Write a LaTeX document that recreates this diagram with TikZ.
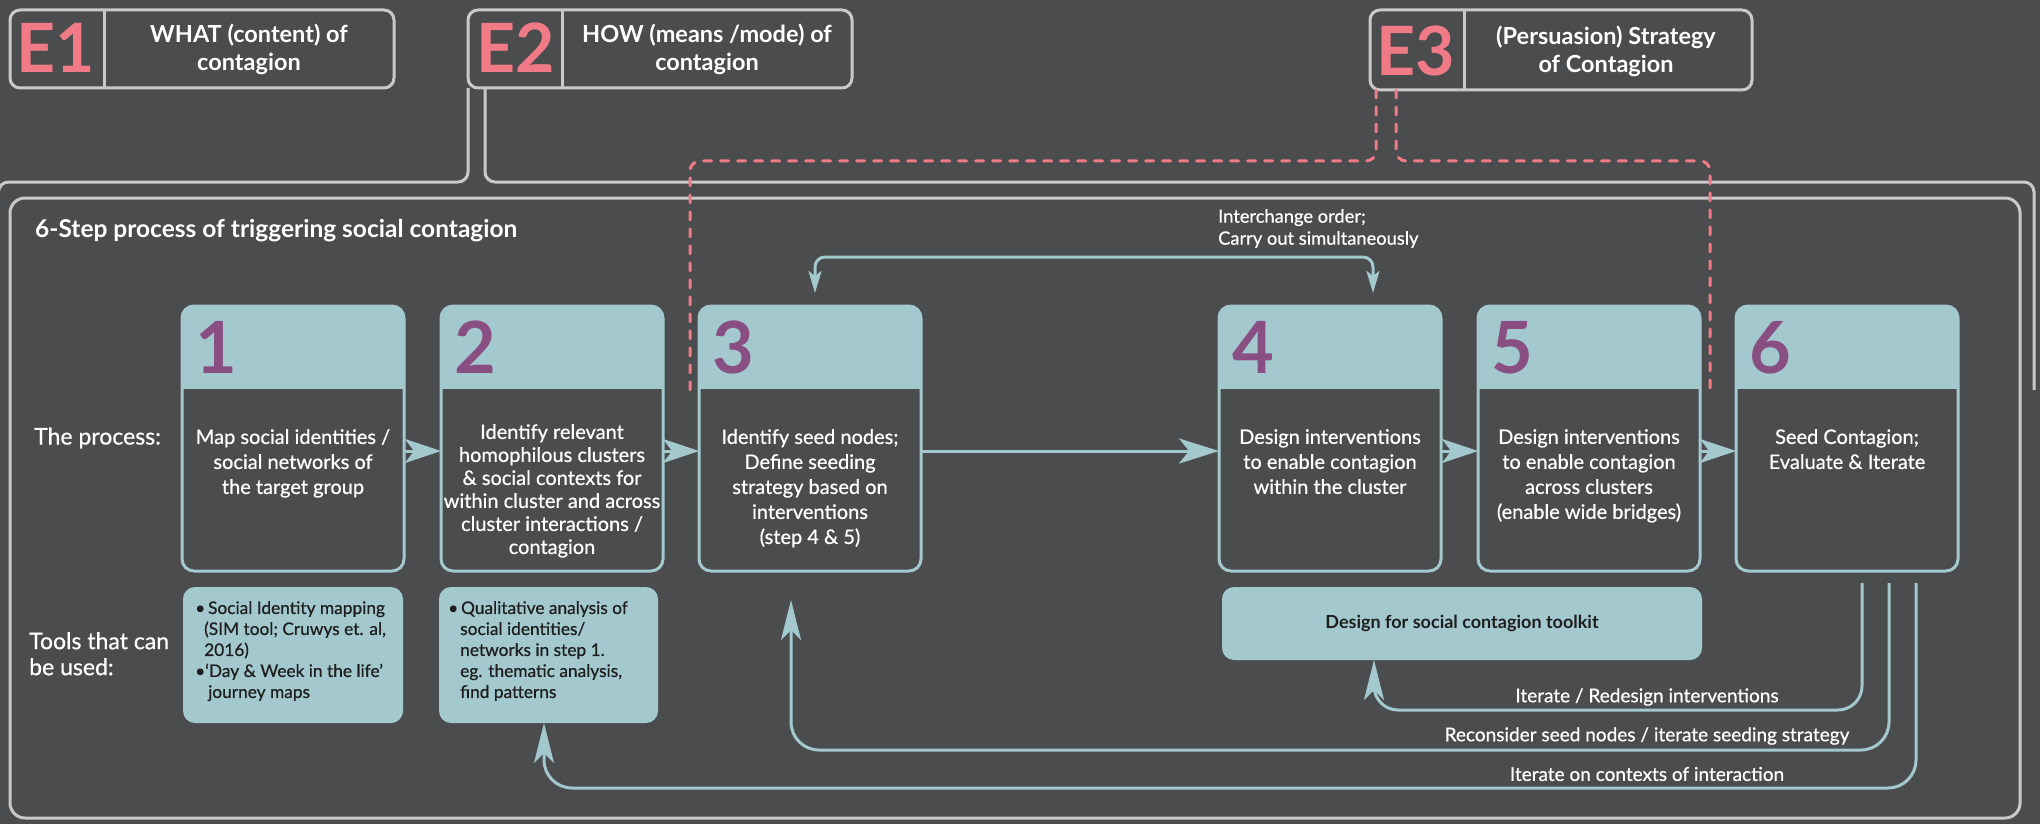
\documentclass[tikz,border=0pt]{standalone}
\usepackage{fontspec}
\setmainfont{Lato}
\newfontfamily\latosb[FakeBold=0.6]{Lato}
\usetikzlibrary{arrows.meta}
\definecolor{bgc}{HTML}{4B4C4E}
\definecolor{lbc}{HTML}{A3C9CF}
\definecolor{purc}{HTML}{8A4F82}
\definecolor{pkc}{HTML}{F07B87}
\definecolor{frc}{HTML}{C9C9C9}
\definecolor{dkc}{HTML}{1E1E1E}
\newcommand\StepBox[6]{%
  \node[stepbox] (#1) at (#2,438.5) {};
  \begin{scope}
    \clip (#1.north west) rectangle (#1.east |- 0,388);
    \fill[lbc, rounded corners=12pt] (#1.north west) rectangle (#1.east |- 0,430);
  \end{scope}
  \node[numtxt, xshift=13pt] (#1n) at (#1.west |- 0,373) {#3};
  \node[bodytxt, font=\latosb\fontsize{20}{#5}\selectfont] (#1t) at (#1.north |- 0,#4) {#6};
}
\begin{document}
\begin{tikzpicture}[x=1pt,y=-1pt,
  stepbox/.style={draw=lbc, fill=bgc, line width=3pt, rounded corners=12pt, minimum width=222pt, minimum height=265pt, inner sep=0pt, outer sep=0pt},
  numtxt/.style={font=\fontsize{72}{72}\selectfont\bfseries, text=purc, inner sep=0pt, anchor=base west},
  bodytxt/.style={text=white, align=center, anchor=north, inner sep=0pt},
  toolbox/.style={fill=lbc, rounded corners=12pt, minimum width=220pt, minimum height=136pt, inner sep=0pt, outer sep=0pt},
  tooltxt/.style={font=\latosb\fontsize{17.3}{21}\selectfont, text=dkc, align=left, anchor=north west, inner sep=0pt},
  ebox/.style={draw=frc, line width=3pt, rounded corners=10pt, minimum height=78pt, inner sep=0pt, outer sep=0pt},
  elabel/.style={font=\fontsize{68}{68}\selectfont\bfseries, text=pkc, inner sep=0pt},
  etxt/.style={font=\fontsize{23.5}{28}\selectfont\bfseries, text=white, align=center, inner sep=0pt},
  frm/.style={draw=frc, line width=3pt},
  reddash/.style={draw=pkc, line width=3pt, dash pattern=on 8pt off 9pt, line cap=round},
  conn/.style={draw=lbc, line width=3pt},
  lbl/.style={font=\latosb\fontsize{19}{22}\selectfont, text=white, inner sep=0pt},
  sidetxt/.style={font=\latosb\fontsize{23}{26}\selectfont, text=white, inner sep=0pt, align=left},
  fbtip/.style={-{Stealth[length=40pt,width=20pt,inset=10pt]}}
]
\useasboundingbox (0,0) rectangle (2040,824);
\fill[bgc] (0,0) rectangle (2040,824);

% E boxes
\node[ebox, minimum width=384pt] (e1) at (202,49) {};
\draw[frm] (e1.north -| 104,0) -- (e1.south -| 104,0);
\node[elabel] (e1l) at (56,47.5) {E1};
\node[etxt] (e1t) at (249,49) {WHAT (content) of\\contagion};

\node[ebox, minimum width=384pt] (e2) at (660,49) {};
\draw[frm] (e2.north -| 562,0) -- (e2.south -| 562,0);
\node[elabel] (e2l) at (516,47.5) {E2};
\node[etxt] (e2t) at (707,49) {HOW (means /mode) of\\contagion};

\node[ebox, minimum width=382pt, minimum height=80pt] (e3) at (1561,50) {};
\draw[frm] (e3.north -| 1464,0) -- (e3.south -| 1464,0);
\node[elabel] (e3l) at (1416,50.5) {E3};
\node[etxt] (e3t) at (1606,51) {(Persuasion) Strategy\\of Contagion};

% frames
\draw[frm, rounded corners=10pt] (e2.south west) -- (468,182) -- (-1.5,182) -- (-1.5,330);
\draw[frm, rounded corners=10pt] ([xshift=17pt]e2.south west) -- (485,182) -- (2034,182) -- (2034,390);
\node[draw=frc, line width=3pt, rounded corners=15pt, minimum width=2010pt, minimum height=620pt, inner sep=0pt, outer sep=0pt] (frame6) at (1015,508) {};
\node[font=\fontsize{24.5}{28}\selectfont\bfseries, text=white, anchor=west, inner sep=0pt] (ttl) at (35,231) {6-Step process of triggering social contagion};

% dashed E3 links
\draw[reddash, rounded corners=10pt] ([xshift=6pt]e3.south west) -- (1376,161) -- (690,161) -- (690,390);
\draw[reddash, rounded corners=10pt] ([xshift=26pt]e3.south west) -- (1396,161) -- (1710,161) -- (1710,390);

% side labels
\node[sidetxt, anchor=west] (proc) at (34,438) {The process:};
\node[sidetxt, anchor=north west] (tools) at (29,632) {Tools that can\\be used:};

% step boxes
\StepBox{b1}{293}{1}{429}{25}{Map social identities /\\social networks of\\the target group}
\StepBox{b2}{552}{2}{424}{23}{Identify relevant\\homophilous clusters\\\& social contexts for\\within cluster and across\\cluster interactions /\\contagion}
\StepBox{b3}{810}{3}{429}{25}{Identify seed nodes;\\Define seeding\\strategy based on\\interventions\\(step 4 \& 5)}
\StepBox{b4}{1330}{4}{429}{25}{Design interventions\\to enable contagion\\within the cluster}
\StepBox{b5}{1589}{5}{429}{25}{Design interventions\\to enable contagion\\across clusters\\(enable wide bridges)}
\StepBox{b6}{1847}{6}{429}{25}{Seed Contagion;\\Evaluate \& Iterate}

% flow arrows
\foreach \a/\b in {b1/b2,b2/b3,b4/b5,b5/b6}
  \draw[conn, -{Stealth[length=36pt,width=24pt,inset=9pt]}] ([yshift=-12.5pt]\a.east) -- ([yshift=-12.5pt]\b.west);
\draw[conn, -{Stealth[length=40pt,width=25pt,inset=10pt]}] ([yshift=-12.5pt]b3.east) -- ([yshift=-12.5pt]b4.west);

% interchange
\node[font=\latosb\fontsize{18.3}{22}\selectfont, text=white, align=left, anchor=north west, inner sep=0pt] (ich) at (1218,209) {Interchange order;\\Carry out simultaneously};
\draw[conn, rounded corners=10pt, {Stealth[length=22pt,width=13pt,inset=5pt]}-{Stealth[length=22pt,width=13pt,inset=5pt]}] ([xshift=5pt,yshift=13pt]b3.north) -- (815,257) -- (1373,257) -- ([xshift=43pt,yshift=13pt]b4.north);

% tools boxes
\node[toolbox] (t1) at (293,655) {};
\node[tooltxt] (t1t) at ([xshift=12pt,yshift=-14pt]t1.north west) {•\,Social Identity mapping\\\hspace*{9pt}(SIM tool; Cruwys et. al,\\\hspace*{9pt}2016)\\•‘Day \& Week in the life’\\\hspace*{13pt}journey maps};
\node[toolbox, minimum width=219pt] (t2) at (548.5,655) {};
\node[tooltxt] (t2t) at ([xshift=9pt,yshift=-14pt]t2.north west) {•\,Qualitative analysis of\\\hspace*{12pt}social identities/\\\hspace*{12pt}networks in step 1.\\\hspace*{12pt}eg. thematic analysis,\\\hspace*{12pt}find patterns};
\node[toolbox, minimum width=480pt, minimum height=73pt, font=\fontsize{18}{22}\selectfont\bfseries, text=dkc] (tk) at (1462,623.5) {Design for social contagion toolkit};

% feedback loops
\coordinate (f1) at ([xshift=15pt,yshift=-12pt]b6.south);
\coordinate (f2) at ([xshift=42pt,yshift=-12pt]b6.south);
\coordinate (f3) at ([xshift=69pt,yshift=-12pt]b6.south);
\draw[conn, rounded corners=24pt, fbtip] (f1) -- (1862,710) -- (1374,710) -- ([xshift=-88pt]tk.south);
\draw[conn, rounded corners=28pt, fbtip] (f2) -- (1889,750) -- (791,750) -- ([xshift=-19pt,yshift=-29pt]b3.south);
\draw[conn, rounded corners=28pt, fbtip] (f3) -- (1916,788) -- (544,788) -- ([xshift=-4.5pt]t2.south);
\node[lbl] (l1) at (1647,697) {Iterate / Redesign interventions};
\node[lbl] (l2) at (1647,736) {Reconsider seed nodes / iterate seeding strategy};
\node[lbl] (l3) at (1647,774) {Iterate on contexts of interaction};
\end{tikzpicture}
\end{document}
